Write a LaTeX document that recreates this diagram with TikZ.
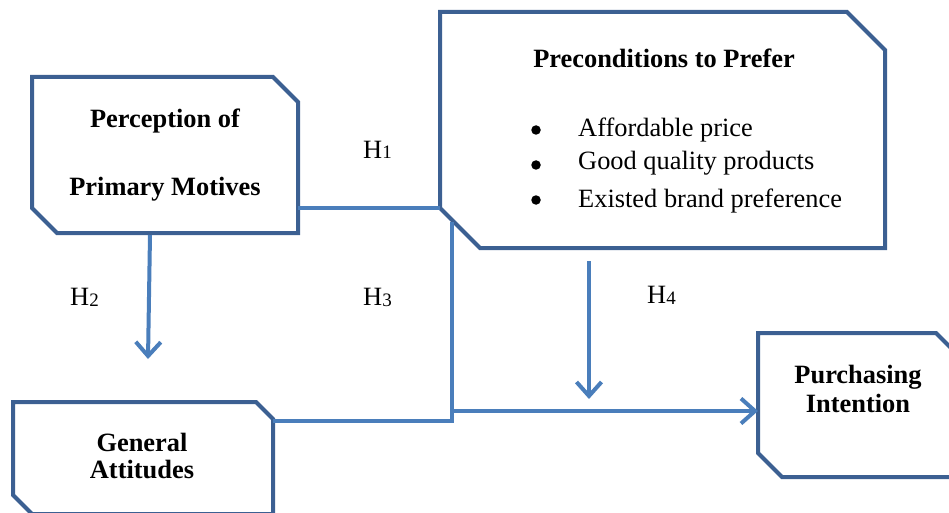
\documentclass[tikz,border=0pt]{standalone}
\usepackage{fontspec}
\setmainfont{Liberation Serif}
\usetikzlibrary{arrows.meta}
\definecolor{boxblue}{RGB}{60,96,146}
\definecolor{lineblue}{RGB}{74,126,187}
\tikzset{
  boxarea/.style={draw=none, inner sep=0pt, outer sep=0pt},
  boxline/.style={draw=boxblue, line width=4pt, line join=miter, fill=white},
  conn/.style={draw=lineblue, line width=4pt},
  arr/.style={conn, -{Straight Barb[length=14pt,width=25pt]}},
  boldtxt/.style={font=\fontsize{26.4}{28}\selectfont\bfseries, anchor=base, inner sep=0pt},
  plaintxt/.style={font=\fontsize{26.4}{28}\selectfont, anchor=base, inner sep=0pt},
  hlabel/.style={plaintxt, anchor=base west},
  bulletdot/.style={circle, fill=black, draw=none, inner sep=0pt, minimum size=9.5pt},
}
\newcommand\cutbox[3]{\draw[boxline] (#1.north west) -- ([xshift=-#2]#1.north east) -- ([yshift=-#2]#1.north east) -- (#1.south east) -- ([xshift=#3]#1.south west) -- ([yshift=#3]#1.south west) -- cycle;}
\newcommand\hsub[1]{\raisebox{-1pt}{\fontsize{19}{19}\selectfont #1}}
\begin{document}
\begin{tikzpicture}[x=1pt,y=-1pt]
\useasboundingbox (0,0) rectangle (949,513);
% box areas
\node[boxarea, minimum width=266pt, minimum height=156pt] (pm) at (165,155) {};
\node[boxarea, minimum width=445pt, minimum height=236pt] (pc) at (662.5,130) {};
\node[boxarea, minimum width=260pt, minimum height=112pt] (ga) at (143,458) {};
\node[boxarea, minimum width=200pt, minimum height=144pt] (pi) at (858,405) {};
\cutbox{pm}{25pt}{25pt}
\cutbox{pc}{38pt}{40pt}
\cutbox{ga}{17pt}{19pt}
\cutbox{pi}{22pt}{24pt}
% texts
\node[boldtxt] (t1) at (165,128) {Perception of};
\node[boldtxt] (t2) at (165,195) {Primary Motives};
\node[boldtxt] (t3) at (664,68) {Preconditions to Prefer};
\node[bulletdot] (b1) at (536,130) {};
\node[bulletdot] (b2) at (536,165) {};
\node[bulletdot] (b3) at (536,200) {};
\node[plaintxt, anchor=base west] (l1) at (578,137) {Affordable price};
\node[plaintxt, anchor=base west] (l2) at (578,170) {Good quality products};
\node[plaintxt, anchor=base west] (l3) at (578,207) {Existed brand preference};
\node[boldtxt] (t4) at (142,451) {General};
\node[boldtxt] (t5) at (142,478) {Attitudes};
\node[boldtxt] (t6) at (858,383) {Purchasing};
\node[boldtxt] (t7) at (858,412) {Intention};
% labels
\node[hlabel] (h1) at (363,158) {H\hsub{1}};
\node[hlabel] (h2) at (70,305) {H\hsub{2}};
\node[hlabel] (h3) at (363,305) {H\hsub{3}};
\node[hlabel] (h4) at (647,303) {H\hsub{4}};
% connectors
\coordinate (j1) at (452,222);
\coordinate (j2) at (452,421);
\coordinate (j3) at (452,411);
\coordinate (a2s) at (150,235);
\coordinate (a2e) at (148,359);
\coordinate (a4s) at (589,261);
\coordinate (a4e) at (589,399);
\draw[conn] ([yshift=25pt]pm.south east) -- ([yshift=25pt]pm.south east -| pc.west);
\draw[conn] (j1) -- (j2) -- (j2 -| ga.east);
\draw[arr] (j3) -- (j3 -| pi.west);
\draw[arr] (a2s) -- (a2e);
\draw[arr] (a4s) -- (a4e);
\end{tikzpicture}
\end{document}
